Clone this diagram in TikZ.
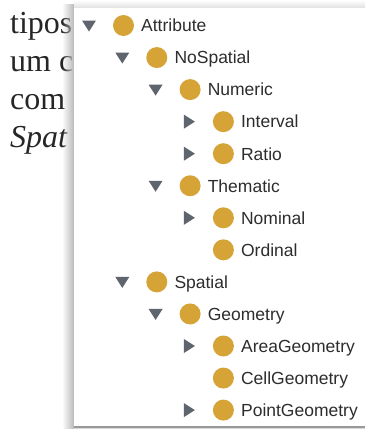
\documentclass[tikz,border=0pt]{standalone}
\usepackage{fontspec}
\setmainfont{Liberation Serif}
\newfontfamily\treefont{Liberation Sans}
\usetikzlibrary{fadings,calc}
\definecolor{gold}{RGB}{214,163,54}
\definecolor{trigray}{RGB}{95,101,110}
\definecolor{txtgray}{RGB}{45,45,45}
\tikzfading[name=shadowfade, left color=transparent!100, right color=transparent!0]
\tikzset{
  bullet/.style={circle, fill=gold, draw=none, minimum size=21pt, inner sep=0pt},
  itemtext/.style={anchor=base west, inner sep=0pt, text=txtgray, font=\treefont\fontsize{17.5}{20}\selectfont},
  bodytext/.style={anchor=base west, inner sep=0pt, text=black!85, font=\fontsize{32}{38}\selectfont},
  tri/.style={fill=trigray}
}
\begin{document}
\begin{tikzpicture}[x=1pt,y=-1pt]
\useasboundingbox (0,0) rectangle (365,429);
% body text behind the panel
\node[bodytext] (l1) at (10,33) {tipos:};
\node[bodytext] (l2) at (10,71) {um c};
\node[bodytext] (l3) at (10,109) {com};
\node[bodytext] (l4) at (10,147) {\itshape Spat};
% panel shadow
\fill[black!28, path fading=shadowfade] (62,4) rectangle (74,429);
% top bar
\shade[top color=white, bottom color=black!12] (74,0) rectangle (365,8);
% panel
\fill[white] (74,8) rectangle (365,426);
\fill[black!40] (74,426) rectangle (365,428);
\fill[black!15] (74,428) rectangle (365,429);
% tree
\foreach \n/\t/\l/\r/\k in {
  attr/Attribute/0/0/d,
  nosp/NoSpatial/1/1/d,
  num/Numeric/2/2/d,
  intv/Interval/3/3/r,
  ratio/Ratio/3/4/r,
  them/Thematic/2/5/d,
  nomi/Nominal/3/6/r,
  ordi/Ordinal/3/7/n,
  spat/Spatial/1/8/d,
  geom/Geometry/2/9/d,
  area/AreaGeometry/3/10/r,
  cell/CellGeometry/3/11/n,
  point/PointGeometry/3/12/r}
{
  \pgfmathsetmacro{\cx}{123.5+33.3*\l}
  \pgfmathsetmacro{\cy}{25.5+32.05*\r}
  \node[bullet] (c-\n) at (\cx,\cy) {};
  \node[itemtext] (t-\n) at (\cx+17.5,\cy+6.3) {\t};
  \coordinate (k-\n) at (\cx-34.5,\cy);
  \if\k d
    \fill[tri] ($(k-\n)+(-7,-5)$) -- ++(14,0) -- ++(-7,11) -- cycle;
  \fi
  \if\k r
    \fill[tri] ($(k-\n)+(-5,-7)$) -- ++(0,14) -- ++(11,-7) -- cycle;
  \fi
}
\end{tikzpicture}
\end{document}
